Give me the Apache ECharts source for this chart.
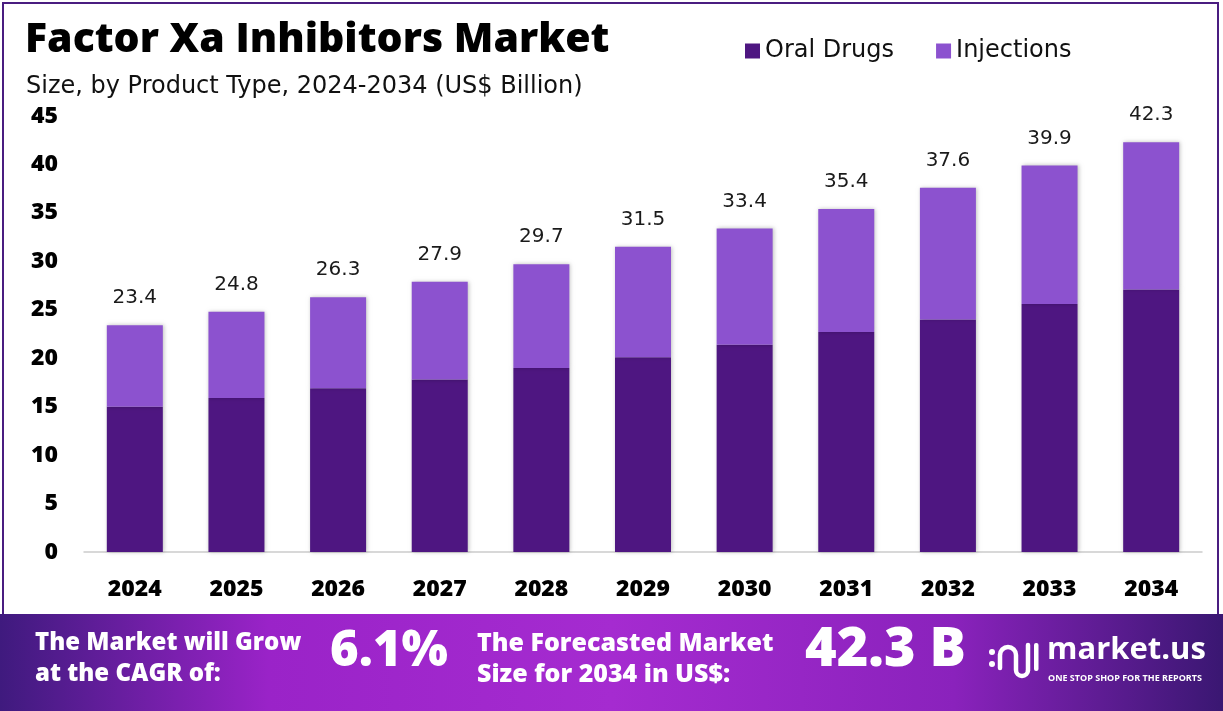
<!DOCTYPE html>
<html>
<head>
<meta charset="utf-8">
<script src="https://cdn.jsdelivr.net/npm/echarts@6/dist/echarts.min.js"></script>
<style>
html,body{margin:0;padding:0;background:#fff;}
#c{width:1223px;height:711px;}
</style>
</head>
<body>
<div id="c"></div>
<script>
var categories = ['2024','2025','2026','2027','2028','2029','2030','2031','2032','2033','2034'];
var oralDrugs = [15.0, 15.9, 16.9, 17.8, 19.0, 20.1, 21.4, 22.7, 24.0, 25.6, 27.1];
var injections = [8.4, 8.9, 9.4, 10.1, 10.7, 11.4, 12.0, 12.7, 13.6, 14.3, 15.2];
var totals = [23.4, 24.8, 26.3, 27.9, 29.7, 31.5, 33.4, 35.4, 37.6, 39.9, 42.3];
var yTicks = [0, 5, 10, 15, 20, 25, 30, 35, 40, 45];

var FONT = 'Open Sans';
var FONT2 = 'DejaVu Sans';
var W = 'rgba(255,255,255,1)';
var chart = echarts.init(document.getElementById('c'));
var option = {
  backgroundColor: '#ffffff',
  animation: false,
  title: [{
    text: 'Factor Xa Inhibitors Market',
    left: 20, top: 15,
    textStyle: {fontFamily: FONT, fontSize: 41, fontWeight: 800, color: '#000'}
  }, {
    text: 'Size, by Product Type, 2024-2034 (US$ Billion)',
    left: 21, top: 70,
    textStyle: {fontFamily: FONT2, fontSize: 24, fontWeight: 'normal', color: '#111'}
  }],
  legend: {
    left: 740, top: 34,
    itemWidth: 15, itemHeight: 15, itemGap: 42,
    icon: 'rect',
    textStyle: {fontFamily: FONT2, fontSize: 24, color: '#111'},
    data: ['Oral Drugs', 'Injections']
  },
  grid: {left: 84, right: 21, top: 116, bottom: 159, containLabel: false},
  xAxis: {
    type: 'category',
    data: categories,
    axisLine: {lineStyle: {color: '#cccccc', width: 1.5}},
    axisTick: {show: false},
    axisLabel: {fontFamily: FONT, fontSize: 23, fontWeight: 800, color: '#000', margin: 26}
  },
  yAxis: {
    type: 'value',
    min: yTicks[0], max: yTicks[yTicks.length - 1], interval: 5,
    splitLine: {show: false},
    axisLine: {show: false},
    axisTick: {show: false},
    axisLabel: {fontFamily: FONT, fontSize: 23, fontWeight: 800, color: '#000', margin: 26}
  },
  series: [{
    name: 'Oral Drugs',
    type: 'bar',
    stack: 'a',
    barWidth: 56,
    data: oralDrugs,
    itemStyle: {color: '#4e1681', shadowColor: 'rgba(0,0,0,0.25)', shadowBlur: 4, shadowOffsetX: 1}
  }, {
    name: 'Injections',
    type: 'bar',
    stack: 'a',
    barWidth: 56,
    data: injections,
    itemStyle: {color: '#8c52cf', shadowColor: 'rgba(0,0,0,0.25)', shadowBlur: 4, shadowOffsetX: 1},
    label: {
      show: true, position: 'top', distance: 17,
      fontFamily: FONT2, fontSize: 20, color: '#1a1a1a',
      formatter: function (p) { return totals[p.dataIndex].toFixed(1); }
    }
  }],
  graphic: {elements: [
    {type: 'rect', z: 0, shape: {x: 3, y: 3, width: 1215, height: 612},
      style: {fill: 'none', stroke: '#4a1d80', lineWidth: 2}},
    {type: 'rect', z: 1, shape: {x: 0, y: 614, width: 1223, height: 97},
      style: {fill: new echarts.graphic.LinearGradient(0, 0, 1, 0, [
        {offset: 0, color: '#3f1a7e'},
        {offset: 0.22, color: '#9a23c8'},
        {offset: 0.5, color: '#a52bd0'},
        {offset: 0.78, color: '#8a22bc'},
        {offset: 1, color: '#3a1772'}
      ])}},
    {type: 'text', z: 2, x: 35, y: 628, style: {text: 'The Market will Grow\nat the CAGR of:', fill: W,
      font: '800 24px "Open Sans"', lineHeight: 31}},
    {type: 'text', z: 2, x: 330, y: 628, style: {text: '6.1%', fill: W,
      font: '800 49px "Open Sans"', shadowColor: 'rgba(0,0,0,0.35)', shadowBlur: 6, shadowOffsetY: 2}},
    {type: 'text', z: 2, x: 477, y: 628, style: {text: 'The Forecasted Market\nSize for 2034 in US$:', fill: W,
      font: '800 25px "Open Sans"', lineHeight: 31}},
    {type: 'text', z: 2, x: 805, y: 624, style: {text: '42.3 B', fill: W,
      font: '800 54px "Open Sans"', shadowColor: 'rgba(0,0,0,0.35)', shadowBlur: 6, shadowOffsetY: 2}},
    {type: 'circle', z: 2, shape: {cx: 992, cy: 652, r: 3}, style: {fill: W}},
    {type: 'circle', z: 2, shape: {cx: 992, cy: 664, r: 3}, style: {fill: W}},
    {type: 'arc', z: 2, shape: {cx: 1008, cy: 655, r: 8, startAngle: Math.PI, endAngle: 2 * Math.PI},
      style: {fill: 'none', stroke: W, lineWidth: 4.5}},
    {type: 'line', z: 2, shape: {x1: 1000, y1: 655, x2: 1000, y2: 668}, style: {stroke: W, lineWidth: 4.5, lineCap: 'round'}},
    {type: 'line', z: 2, shape: {x1: 1016, y1: 655, x2: 1016, y2: 670}, style: {stroke: W, lineWidth: 4.5}},
    {type: 'arc', z: 2, shape: {cx: 1022, cy: 670, r: 6, startAngle: 0, endAngle: Math.PI},
      style: {fill: 'none', stroke: W, lineWidth: 4.5}},
    {type: 'line', z: 2, shape: {x1: 1028, y1: 670, x2: 1028, y2: 645}, style: {stroke: W, lineWidth: 4.5, lineCap: 'round'}},
    {type: 'rect', z: 2, shape: {x: 1034, y: 643, width: 4.5, height: 28, r: 2}, style: {fill: W}},
    {type: 'text', z: 2, x: 1047, y: 635, style: {text: 'market.us', fill: W, font: 'bold 31px "Open Sans"'}},
    {type: 'text', z: 2, x: 1048, y: 674, style: {text: 'ONE STOP SHOP FOR THE REPORTS', fill: W, font: 'bold 9px "Open Sans"'}}
  ]}
};
chart.setOption(option);
</script>
</body>
</html>
